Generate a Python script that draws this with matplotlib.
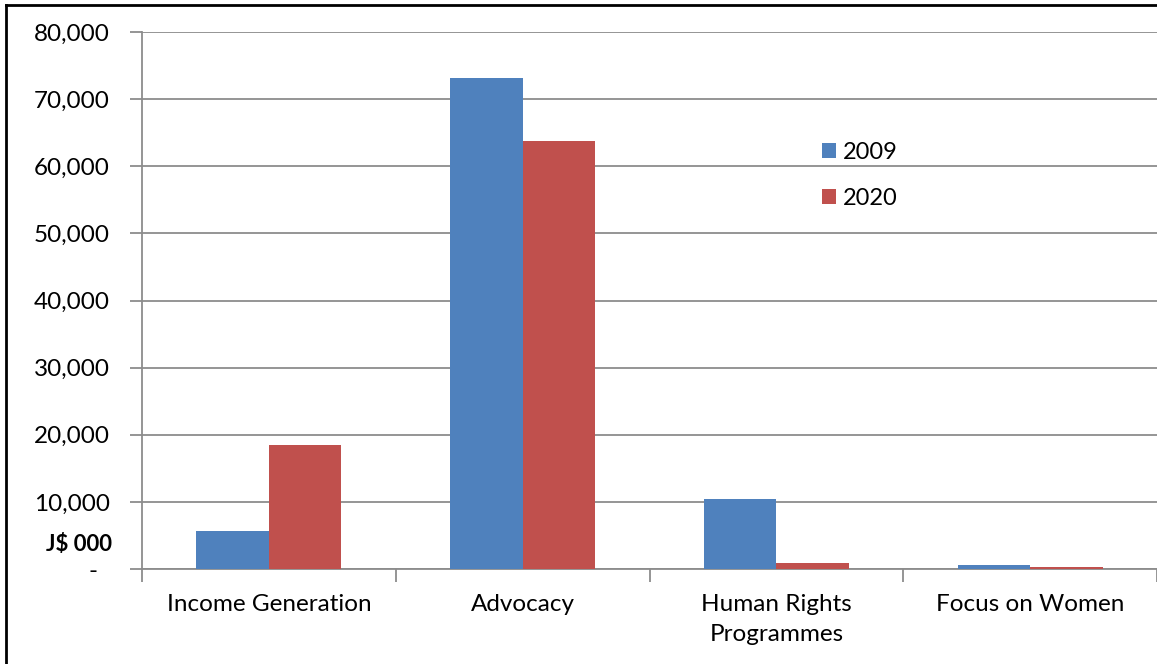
import matplotlib
matplotlib.use('Agg')
import matplotlib.pyplot as plt
import matplotlib.transforms as mtransforms
from matplotlib.lines import Line2D
import numpy as np

plt.rcParams['font.family'] = ['Lato', 'DejaVu Sans']

categories = ['Income Generation', 'Advocacy', 'Human Rights\nProgrammes', 'Focus on Women']
vals_2009 = [5600, 73200, 10400, 600]
vals_2020 = [18500, 63700, 900, 300]
series_names = ['2009', '2020']
yticks = [0, 10000, 20000, 30000, 40000, 50000, 60000, 70000, 80000]
ytick_labels = ['-', '10,000', '20,000', '30,000', '40,000', '50,000', '60,000', '70,000', '80,000']
unit_label = 'J$ 000'

blue = '#4F81BD'
red = '#C0504D'
grid_col = '#8C8C8C'

fig = plt.figure(figsize=(11.57, 6.64), dpi=100)
ax = fig.add_axes([142/1157, 1 - 569/664, 1 - 142/1157, (569 - 32)/664])

x = np.arange(len(categories))
w = 1 / 3.5
ax.bar(x - w/2, vals_2009, w, color=blue, label=series_names[0], zorder=3)
ax.bar(x + w/2, vals_2020, w, color=red, label=series_names[1], zorder=3)

ax.set_xlim(-0.5, len(categories) - 0.5)
ax.set_ylim(0, 80000)

ax.set_yticks(yticks)
ax.set_yticklabels(ytick_labels)
ax.yaxis.grid(True, color=grid_col, linewidth=1.3, zorder=0)
ax.tick_params(axis='y', length=9, width=1.3, color=grid_col, pad=14, labelsize=17.5)

ax.set_xticks(x)
ax.set_xticklabels(categories)
ax.set_xticks(np.arange(len(categories) + 1) - 0.5, minor=True)
ax.tick_params(axis='x', which='major', length=0, pad=18, labelsize=17.5)
ax.tick_params(axis='x', which='minor', length=9, width=1.3, color=grid_col)
for lab in ax.get_xticklabels():
    lab.set_linespacing(1.55)
    lab.set_verticalalignment('top')

# accounting style dash sits left of the number column
dash = ax.get_yticklabels()[0]
dash.set_transform(dash.get_transform() + mtransforms.ScaledTranslation(-13/100, 0, fig.dpi_scale_trans))

for side in ['top', 'right']:
    ax.spines[side].set_visible(False)
for side in ['left', 'bottom']:
    ax.spines[side].set_color(grid_col)
    ax.spines[side].set_linewidth(1.3)

ax.text(-30/1015, 3600, unit_label, transform=ax.get_yaxis_transform(),
        ha='right', va='center', fontsize=16, fontweight='bold')

fig.legend(loc='upper left', bbox_to_anchor=(822/1157, 1 - 142/664), frameon=False,
           fontsize=17, handlelength=0.6, handleheight=0.6, handletextpad=0.3,
           labelspacing=1.05, borderpad=0, borderaxespad=0)

# outer frame (left and top edges visible)
fig.add_artist(Line2D([6/1157, 6/1157], [0, 1 - 5/664], color='black', linewidth=2, transform=fig.transFigure))
fig.add_artist(Line2D([6/1157, 1], [1 - 5/664, 1 - 5/664], color='black', linewidth=2, transform=fig.transFigure))

fig.savefig('out.png', dpi=100)
